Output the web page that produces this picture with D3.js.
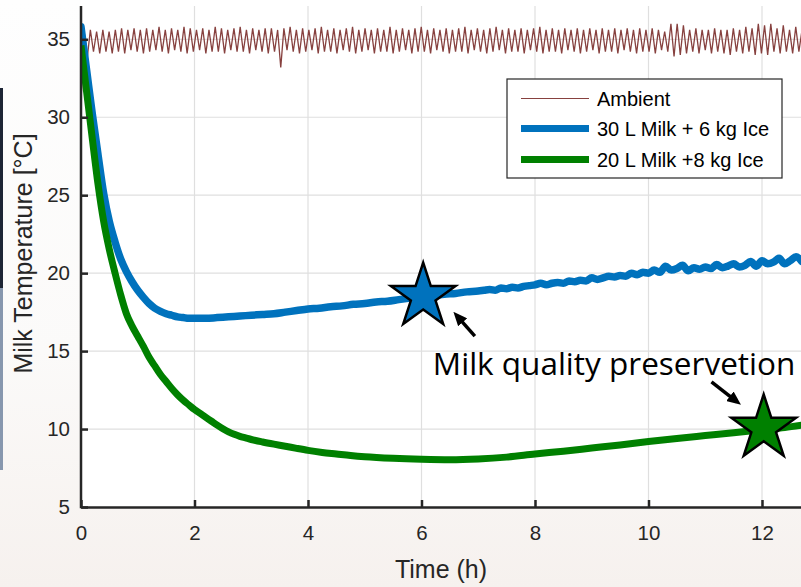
<!DOCTYPE html>
<html>
<head>
<meta charset="utf-8">
<script src="https://cdn.jsdelivr.net/npm/d3@7"></script>
<style>
    html, body { margin: 0; padding: 0; }
    body {
        width: 801px; height: 587px; overflow: hidden;
        background: linear-gradient(#fefefe 0%, #fbfaf9 60%, #f6f1ee 100%);
    }
    svg { display: block; }
</style>
</head>
<body>
<div id="chart"></div>
<script>
/**
 * Data (time in h, temperature in °C).
 */
const xTicks = [0, 2, 4, 6, 8, 10, 12];
const yTicks = [5, 10, 15, 20, 25, 30, 35];

// Ambient logger, one sample every ambientStep hours.
const ambientStep = 0.055;
const ambientTemp = [
    31.0,
    35.5, 33.8, 35.6, 34.2, 35.5, 34.1, 35.6, 34.2, 35.5, 34.1, 35.6, 34.2, 35.7, 34.1, 35.6, 34.3, 35.7, 34.2, 35.6, 34.1,
    35.7, 34.2, 35.6, 34.3, 35.8, 34.2, 35.6, 34.1, 35.7, 34.3, 35.6, 34.2, 35.8, 34.1, 35.7, 34.2, 35.6, 34.3, 35.7, 34.1,
    35.6, 34.2, 35.8, 34.2, 35.7, 34.1, 35.6, 34.3, 35.7, 34.2, 35.8, 34.2, 35.6, 34.1, 35.7, 34.3, 35.6, 34.2, 35.7, 34.1,
    35.7, 34.2, 35.6, 33.2, 35.7, 34.3, 35.8, 34.2, 35.6, 34.1, 35.7, 34.2, 35.6, 34.3, 35.7, 34.1, 35.8, 34.2, 35.6, 34.2,
    35.7, 34.1, 35.6, 34.3, 35.7, 34.2, 35.8, 34.1, 35.6, 34.2, 35.7, 34.3, 35.6, 34.1, 35.7, 34.2, 35.6, 34.2, 35.8, 34.1,
    35.6, 34.2, 35.7, 34.3, 35.6, 34.1, 35.7, 34.2, 35.8, 34.2, 35.6, 34.1, 35.7, 34.3, 35.6, 34.2, 35.7, 34.1, 35.6, 34.2,
    35.7, 34.2, 35.8, 34.1, 35.6, 34.3, 35.7, 34.2, 35.6, 34.1, 35.7, 34.2, 35.8, 34.3, 35.6, 34.1, 35.7, 34.2, 35.6, 34.2,
    35.7, 34.1, 35.6, 34.3, 35.7, 34.2, 35.8, 34.1, 35.6, 34.2, 35.7, 34.2, 35.6, 34.1, 35.7, 34.3, 35.6, 34.2, 35.7, 34.1,
    35.6, 34.2, 35.7, 34.3, 35.6, 34.1, 35.7, 34.2, 35.6, 34.2, 35.7, 34.1, 35.6, 34.3, 35.7, 34.2, 35.6, 34.1, 35.7, 34.2,
    35.6, 34.2, 35.7, 34.1, 35.6, 34.3, 35.5, 34.2, 36.0, 33.9, 36.0, 34.0, 35.9, 34.1, 35.6, 34.2, 35.7, 34.1, 35.6, 34.3,
    35.6, 34.1, 35.7, 34.2, 35.6, 34.1, 35.6, 34.0, 35.7, 34.2, 35.6, 34.1, 35.8, 34.2, 35.7, 34.0, 36.0, 34.1, 35.9, 34.0,
    36.0, 34.2, 35.7, 34.1, 35.9, 34.2, 35.6, 34.1, 35.8, 34.2, 35.6
];

// 30 L milk + 6 kg ice: [time, temperature].
const milk30 = [
    [0, 35.8], [0.1, 33.0], [0.2, 30.2], [0.3, 27.6], [0.4, 25.1], [0.5, 23.3], [0.6, 22.0],
    [0.7, 20.9], [0.8, 20.1], [0.9, 19.45], [1.0, 18.9], [1.1, 18.45], [1.2, 18.05], [1.3, 17.75],
    [1.4, 17.55], [1.5, 17.4], [1.6, 17.3], [1.7, 17.2], [1.8, 17.15], [1.9, 17.1], [2.0, 17.1],
    [2.2, 17.1], [2.4, 17.15], [2.6, 17.2], [2.8, 17.25], [3.0, 17.3], [3.2, 17.35], [3.4, 17.4],
    [3.6, 17.5], [3.8, 17.6], [4.0, 17.7], [4.2, 17.75], [4.4, 17.85], [4.6, 17.9], [4.8, 18.0],
    [5.0, 18.05], [5.2, 18.15], [5.4, 18.2], [5.6, 18.3], [5.8, 18.4], [6.0, 18.5], [6.2, 18.55],
    [6.4, 18.65], [6.6, 18.7], [6.8, 18.8], [7.0, 18.85],
    [7.1, 18.9], [7.2, 18.95], [7.3, 18.9], [7.4, 19.05], [7.5, 19.0], [7.6, 19.1], [7.7, 19.05],
    [7.8, 19.15], [7.9, 19.2], [8.0, 19.25], [8.1, 19.35], [8.2, 19.25], [8.3, 19.35], [8.4, 19.4],
    [8.5, 19.35], [8.6, 19.5], [8.7, 19.45], [8.8, 19.55], [8.9, 19.5], [9.0, 19.7], [9.1, 19.6],
    [9.2, 19.7], [9.3, 19.8], [9.4, 19.75], [9.5, 19.85], [9.6, 19.8], [9.7, 20.0], [9.8, 19.9],
    [9.9, 20.05], [10.0, 20.0], [10.1, 20.2], [10.2, 20.05], [10.3, 20.45], [10.4, 20.2], [10.5, 20.3],
    [10.6, 20.5], [10.7, 20.15], [10.8, 20.35], [10.9, 20.25], [11.0, 20.4], [11.1, 20.3], [11.2, 20.55],
    [11.3, 20.35], [11.4, 20.45], [11.5, 20.6], [11.6, 20.4], [11.7, 20.5], [11.8, 20.75], [11.9, 20.45],
    [12.0, 20.8], [12.1, 20.6], [12.2, 20.7], [12.3, 20.95], [12.4, 20.6], [12.5, 20.8], [12.6, 21.05],
    [12.7, 20.75]
];

// 20 L milk + 8 kg ice: [time, temperature].
const milk20 = [
    [0, 34.6], [0.1, 31.6], [0.2, 28.6], [0.3, 25.7], [0.4, 23.3], [0.5, 21.5], [0.6, 20.0],
    [0.7, 18.6], [0.8, 17.4], [0.9, 16.6], [1.0, 15.95], [1.1, 15.3], [1.2, 14.6], [1.3, 14.05],
    [1.4, 13.5], [1.5, 13.05], [1.6, 12.6], [1.7, 12.2], [1.8, 11.85], [1.9, 11.55], [2.0, 11.25],
    [2.1, 11.0], [2.2, 10.75], [2.3, 10.5], [2.4, 10.25], [2.5, 10.02], [2.6, 9.82], [2.7, 9.66],
    [2.8, 9.53], [2.9, 9.43], [3.0, 9.33], [3.2, 9.17], [3.4, 9.03], [3.6, 8.9], [3.8, 8.76],
    [4.0, 8.63], [4.25, 8.5], [4.5, 8.4], [4.75, 8.3], [5.0, 8.22], [5.5, 8.12], [6.0, 8.06],
    [6.5, 8.03], [7.0, 8.08], [7.5, 8.2], [8.0, 8.4], [8.5, 8.58], [9.0, 8.78], [9.5, 8.98],
    [10.0, 9.2], [10.5, 9.4], [11.0, 9.58], [11.5, 9.76], [12.0, 9.95], [12.4, 10.1], [12.7, 10.25]
];

const seriesNames = ["Ambient", "30 L Milk + 6 kg Ice", "20 L Milk +8 kg Ice"];

// Star markers and the annotation.
const starTime = [6.03, 12.03];
const starTemp = [18.5, 10.05];
const noteText = "Milk quality preservetion";
const noteAt = [6.2, 13.46];
// Arrows as [tailTime, tailTemp, headTime, headTemp].
const arrows = [
    [6.94, 15.96, 6.62, 17.28],
    [11.11, 13.03, 11.56, 11.75]
];

/**
 * Layout.
 */
const W = 801, H = 587;
const Margin = { top: 6, right: 0, bottom: 80, left: 81 };
const Width = W - Margin.left - Margin.right;
const Height = H - Margin.top - Margin.bottom;

const Colors = {
    ambient: "#87413f",
    blue: "#0072bd",
    green: "#008000",
    axis: "#262626",
    grid: "#dfdfdf",
};
const Font = "'Liberation Sans', Arial, Helvetica, sans-serif";


const x = d3.scaleLinear().domain([0, Width / 56.75]).range([0, Width]);
const y = d3.scaleLinear().domain([5, 5 + Height / 15.59]).range([Height, 0]);


const createSvg = () => {
    const root = d3.select("#chart")
        .append("svg")
            .attr("width", W)
            .attr("height", H);

    // Cropping artefact on the left edge of the original figure.
    root.append("rect")
        .attr("x", 0).attr("y", 88).attr("width", 3).attr("height", 200)
        .attr("fill", "#1d2535");
    root.append("rect")
        .attr("x", 0).attr("y", 288).attr("width", 3).attr("height", 182)
        .attr("fill", "#8797ae");

    const svg = root.append("g")
        .attr("transform", `translate(${Margin.left},${Margin.top})`);

    // White plot area.
    svg.append("rect")
        .attr("x", 0).attr("y", -Margin.top)
        .attr("width", Width).attr("height", Height + Margin.top)
        .attr("fill", "#fff");

    svg.append("clipPath")
        .attr("id", "clip")
        .append("rect")
            .attr("x", 0).attr("y", -Margin.top)
            .attr("width", Width).attr("height", Height + Margin.top);

    return svg;
}


const printGrid = (svg) => {
    svg.append("g")
        .selectAll("line")
        .data(xTicks.filter(d => d > 0))
        .join("line")
            .attr("x1", d => x(d)).attr("x2", d => x(d))
            .attr("y1", 0).attr("y2", Height)
            .attr("stroke", Colors.grid).attr("stroke-width", 1.2);
    svg.append("g")
        .selectAll("line")
        .data(yTicks.filter(d => d > 5))
        .join("line")
            .attr("x1", 0).attr("x2", Width)
            .attr("y1", d => y(d)).attr("y2", d => y(d))
            .attr("stroke", Colors.grid).attr("stroke-width", 1.2);
}


const printAxes = (svg) => {
    // Inward ticks, matlab style.
    const xAxis = svg.append("g")
        .attr("transform", `translate(0,${Height})`)
        .call(d3.axisBottom(x).tickValues(xTicks).tickSizeInner(-7).tickSizeOuter(0).tickPadding(18));
    const yAxis = svg.append("g")
        .call(d3.axisLeft(y).tickValues(yTicks).tickSizeInner(-7).tickSizeOuter(0).tickPadding(11));

    [xAxis, yAxis].forEach(a => {
        a.select(".domain").attr("stroke", Colors.axis).attr("stroke-width", 2.5);
        a.selectAll(".tick line").attr("stroke", Colors.axis).attr("stroke-width", 2.5);
        a.selectAll(".tick text")
            .attr("fill", Colors.axis)
            .style("font-family", Font)
            .style("font-size", "20.5px");
    });
    yAxis.select(".domain").attr("d", `M0,0V${Height + 1.2}`);

    svg.append("text")
        .attr("x", Width / 2)
        .attr("y", Height + 71)
        .attr("text-anchor", "middle")
        .attr("fill", Colors.axis)
        .style("font-family", Font)
        .style("font-size", "25px")
        .text("Time (h)");

    svg.append("text")
        .attr("transform", `translate(${-49},${Height / 2 - 3}) rotate(-90)`)
        .attr("text-anchor", "middle")
        .attr("fill", Colors.axis)
        .style("font-family", Font)
        .style("font-size", "25px")
        .text("Milk Temperature [°C]");
}


const printLines = (svg) => {
    const line = d3.line().x(d => x(d[0])).y(d => y(d[1]));
    const smooth = d3.line().x(d => x(d[0])).y(d => y(d[1])).curve(d3.curveMonotoneX);
    const g = svg.append("g").attr("clip-path", "url(#clip)");

    const ambient = ambientTemp.map((v, i) => [i * ambientStep, v]);
    g.append("path")
        .attr("d", line(ambient))
        .attr("fill", "none")
        .attr("stroke", Colors.ambient)
        .attr("stroke-width", 1.3);

    g.append("path")
        .attr("d", smooth(milk30))
        .attr("fill", "none")
        .attr("stroke", Colors.blue)
        .attr("stroke-width", 7.5)
        .attr("stroke-linejoin", "round")
        .attr("stroke-linecap", "round");

    g.append("path")
        .attr("d", smooth(milk20))
        .attr("fill", "none")
        .attr("stroke", Colors.green)
        .attr("stroke-width", 7)
        .attr("stroke-linejoin", "round")
        .attr("stroke-linecap", "butt");
}


const printAnnotations = (svg) => {
    const defs = svg.append("defs");
    defs.append("marker")
        .attr("id", "head")
        .attr("viewBox", "0 0 14 12")
        .attr("markerUnits", "userSpaceOnUse")
        .attr("markerWidth", 14).attr("markerHeight", 12)
        .attr("refX", 9).attr("refY", 6)
        .attr("orient", "auto")
        .append("path")
            .attr("d", "M0,0L14,6L0,12Z")
            .attr("fill", "#000");

    svg.append("g")
        .selectAll("line")
        .data(arrows)
        .join("line")
            .attr("x1", d => x(d[0])).attr("y1", d => y(d[1]))
            .attr("x2", d => x(d[2])).attr("y2", d => y(d[3]))
            .attr("stroke", "#000")
            .attr("stroke-width", 3.5)
            .attr("marker-end", "url(#head)");

    const r = 34;
    const star = d3.symbol().type(d3.symbolStar).size(r * r / 0.8908130915292852);
    svg.append("g")
        .selectAll("path")
        .data(starTime.map((t, i) => [t, starTemp[i]]))
        .join("path")
            .attr("transform", d => `translate(${x(d[0])},${y(d[1])})`)
            .attr("d", star)
            .attr("fill", (d, i) => i == 0 ? Colors.blue : Colors.green)
            .attr("stroke", "#000")
            .attr("stroke-width", 2.5)
            .attr("stroke-linejoin", "miter");

    svg.append("text")
        .attr("x", x(noteAt[0]))
        .attr("y", y(noteAt[1]))
        .attr("fill", "#000")
        .style("font-family", "'Open Sans', sans-serif")
        .style("font-size", "31.5px")
        .text(noteText);
}


const printLegend = (svg) => {
    const g = svg.append("g")
        .attr("transform", `translate(${507 - Margin.left},${79 - Margin.top})`);
    g.append("rect")
        .attr("width", 275).attr("height", 99)
        .attr("fill", "#fff")
        .attr("stroke", Colors.axis)
        .attr("stroke-width", 1.2);

    const rows = [
        { color: Colors.ambient, width: 1.1 },
        { color: Colors.blue, width: 7 },
        { color: Colors.green, width: 7 },
    ];
    const rowY = [19.5, 49.5, 80.5];
    const item = g.selectAll(".item")
        .data(seriesNames)
        .join("g")
            .attr("transform", (d, i) => `translate(0,${rowY[i]})`);
    item.append("line")
        .attr("x1", 14).attr("x2", 82)
        .attr("stroke", (d, i) => rows[i].color)
        .attr("stroke-width", (d, i) => rows[i].width);
    item.append("text")
        .attr("x", 90)
        .attr("dy", "0.36em")
        .attr("fill", "#000")
        .style("font-family", Font)
        .style("font-size", "20px")
        .text(d => d);
}


const printChart = () => {
    const svg = createSvg();
    printGrid(svg);
    printLines(svg);
    printAxes(svg);
    printAnnotations(svg);
    printLegend(svg);
};


printChart();
</script>
</body>
</html>
